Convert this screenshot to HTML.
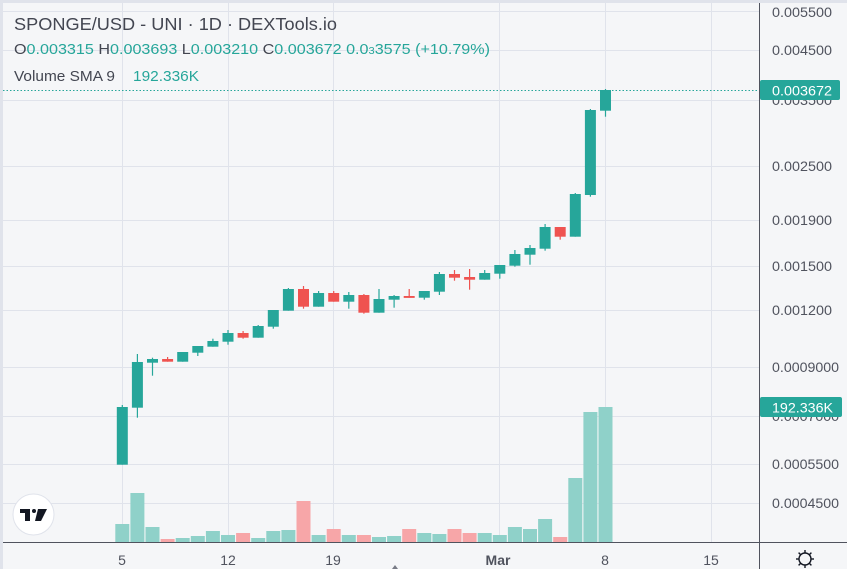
<!DOCTYPE html>
<html><head><meta charset="utf-8"><style>
html,body{margin:0;padding:0;background:#f5f6f8;}
svg{display:block;font-family:"Liberation Sans",sans-serif;}
</style></head><body>
<svg width="847" height="569" viewBox="0 0 847 569" xmlns="http://www.w3.org/2000/svg">
<rect width="847" height="569" fill="#f5f6f8"/>
<rect x="0" y="0" width="847" height="3" fill="#e0e3eb"/>
<rect x="0" y="0" width="3" height="569" fill="#e0e3eb"/>
<g stroke="#e0e3eb" stroke-width="1">
<line x1="3" y1="11.5" x2="759" y2="11.5"/><line x1="3" y1="50.5" x2="759" y2="50.5"/>
<line x1="3" y1="100.5" x2="759" y2="100.5"/><line x1="3" y1="166.5" x2="759" y2="166.5"/>
<line x1="3" y1="220.5" x2="759" y2="220.5"/><line x1="3" y1="266.5" x2="759" y2="266.5"/>
<line x1="3" y1="310.5" x2="759" y2="310.5"/><line x1="3" y1="367.5" x2="759" y2="367.5"/>
<line x1="3" y1="416.5" x2="759" y2="416.5"/><line x1="3" y1="464.5" x2="759" y2="464.5"/>
<line x1="3" y1="503.5" x2="759" y2="503.5"/>
<line x1="122.5" y1="3" x2="122.5" y2="542"/><line x1="228.5" y1="3" x2="228.5" y2="542"/>
<line x1="333.5" y1="3" x2="333.5" y2="542"/><line x1="499.5" y1="3" x2="499.5" y2="542"/>
<line x1="605.5" y1="3" x2="605.5" y2="542"/><line x1="711.5" y1="3" x2="711.5" y2="542"/>
</g>
<g>
<rect x="115.3" y="524" width="14" height="18" fill="#8fd1c9"/>
<rect x="130.4" y="493" width="14" height="49" fill="#8fd1c9"/>
<rect x="145.5" y="527" width="14" height="15" fill="#8fd1c9"/>
<rect x="160.6" y="539" width="14" height="3" fill="#f7a6a8"/>
<rect x="175.7" y="538" width="14" height="4" fill="#8fd1c9"/>
<rect x="190.8" y="536" width="14" height="6" fill="#8fd1c9"/>
<rect x="205.9" y="531" width="14" height="11" fill="#8fd1c9"/>
<rect x="221.0" y="535" width="14" height="7" fill="#8fd1c9"/>
<rect x="236.1" y="533" width="14" height="9" fill="#f7a6a8"/>
<rect x="251.2" y="538" width="14" height="4" fill="#8fd1c9"/>
<rect x="266.3" y="531" width="14" height="11" fill="#8fd1c9"/>
<rect x="281.4" y="530" width="14" height="12" fill="#8fd1c9"/>
<rect x="296.5" y="501" width="14" height="41" fill="#f7a6a8"/>
<rect x="311.6" y="535" width="14" height="7" fill="#8fd1c9"/>
<rect x="326.7" y="529" width="14" height="13" fill="#f7a6a8"/>
<rect x="341.8" y="535" width="14" height="7" fill="#8fd1c9"/>
<rect x="356.9" y="535" width="14" height="7" fill="#f7a6a8"/>
<rect x="372.0" y="537" width="14" height="5" fill="#8fd1c9"/>
<rect x="387.1" y="536" width="14" height="6" fill="#8fd1c9"/>
<rect x="402.2" y="529" width="14" height="13" fill="#f7a6a8"/>
<rect x="417.3" y="533" width="14" height="9" fill="#8fd1c9"/>
<rect x="432.4" y="534" width="14" height="8" fill="#8fd1c9"/>
<rect x="447.5" y="529" width="14" height="13" fill="#f7a6a8"/>
<rect x="462.6" y="533" width="14" height="9" fill="#f7a6a8"/>
<rect x="477.7" y="533" width="14" height="9" fill="#8fd1c9"/>
<rect x="492.8" y="535" width="14" height="7" fill="#8fd1c9"/>
<rect x="507.9" y="527" width="14" height="15" fill="#8fd1c9"/>
<rect x="523.0" y="529" width="14" height="13" fill="#8fd1c9"/>
<rect x="538.1" y="519" width="14" height="23" fill="#8fd1c9"/>
<rect x="553.2" y="537" width="14" height="5" fill="#f7a6a8"/>
<rect x="568.3" y="478" width="14" height="64" fill="#8fd1c9"/>
<rect x="583.4" y="412" width="14" height="130" fill="#8fd1c9"/>
<rect x="598.5" y="407" width="14" height="135" fill="#8fd1c9"/>
</g>
<g stroke-width="1.2">
<g fill="#26a69a" stroke="#26a69a">
<line x1="122.3" y1="405" x2="122.3" y2="464.7"/><rect x="116.8" y="407" width="11" height="57.7" stroke="none"/>
<line x1="137.4" y1="354" x2="137.4" y2="417.7"/><rect x="131.9" y="362" width="11" height="45.7" stroke="none"/>
<line x1="152.5" y1="357.7" x2="152.5" y2="375.7"/><rect x="147" y="359" width="11" height="3.7" stroke="none"/>
<line x1="182.7" y1="352" x2="182.7" y2="361.7"/><rect x="177.2" y="352" width="11" height="9.7" stroke="none"/>
<line x1="197.8" y1="346" x2="197.8" y2="356"/><rect x="192.3" y="346" width="11" height="6.7" stroke="none"/>
<line x1="212.9" y1="338.7" x2="212.9" y2="346.7"/><rect x="207.4" y="341" width="11" height="5.7" stroke="none"/>
<line x1="228" y1="330" x2="228" y2="344.7"/><rect x="222.5" y="333" width="11" height="8.7" stroke="none"/>
<line x1="258.2" y1="325" x2="258.2" y2="337.7"/><rect x="252.7" y="326" width="11" height="11.7" stroke="none"/>
<line x1="273.3" y1="310" x2="273.3" y2="328.7"/><rect x="267.8" y="310" width="11" height="16.7" stroke="none"/>
<line x1="288.4" y1="288" x2="288.4" y2="310.7"/><rect x="282.9" y="289" width="11" height="21.7" stroke="none"/>
<line x1="318.6" y1="291" x2="318.6" y2="306.7"/><rect x="313.1" y="293" width="11" height="13.7" stroke="none"/>
<line x1="348.8" y1="292" x2="348.8" y2="308.7"/><rect x="343.3" y="295" width="11" height="6.7" stroke="none"/>
<line x1="379" y1="289" x2="379" y2="312.7"/><rect x="373.5" y="299" width="11" height="13.7" stroke="none"/>
<line x1="394.1" y1="295" x2="394.1" y2="307.7"/><rect x="388.6" y="296" width="11" height="3.7" stroke="none"/>
<line x1="424.3" y1="291" x2="424.3" y2="299.7"/><rect x="418.8" y="291" width="11" height="6.7" stroke="none"/>
<line x1="439.4" y1="272" x2="439.4" y2="295"/><rect x="433.9" y="274" width="11" height="17.7" stroke="none"/>
<line x1="484.7" y1="270" x2="484.7" y2="279.7"/><rect x="479.2" y="273" width="11" height="6.7" stroke="none"/>
<line x1="499.8" y1="265" x2="499.8" y2="278.7"/><rect x="494.3" y="265" width="11" height="8.7" stroke="none"/>
<line x1="514.9" y1="250" x2="514.9" y2="266.7"/><rect x="509.4" y="254" width="11" height="11.7" stroke="none"/>
<line x1="530" y1="245" x2="530" y2="264.7"/><rect x="524.5" y="248" width="11" height="6.7" stroke="none"/>
<line x1="545.1" y1="224" x2="545.1" y2="250.7"/><rect x="539.6" y="227" width="11" height="21.7" stroke="none"/>
<line x1="575.3" y1="193" x2="575.3" y2="236.7"/><rect x="569.8" y="194" width="11" height="42.7" stroke="none"/>
<line x1="590.4" y1="109" x2="590.4" y2="196.7"/><rect x="584.9" y="110" width="11" height="85" stroke="none"/>
<line x1="605.5" y1="89" x2="605.5" y2="116.7"/><rect x="600" y="90" width="11" height="20.7" stroke="none"/>
</g>
<g fill="#ef5350" stroke="#ef5350">
<line x1="167.6" y1="357" x2="167.6" y2="361.7"/><rect x="162.1" y="359" width="11" height="2.7" stroke="none"/>
<line x1="243.1" y1="331" x2="243.1" y2="338.7"/><rect x="237.6" y="333" width="11" height="4.7" stroke="none"/>
<line x1="303.5" y1="286" x2="303.5" y2="308.7"/><rect x="298" y="289" width="11" height="17.7" stroke="none"/>
<line x1="333.7" y1="291" x2="333.7" y2="301.7"/><rect x="328.2" y="293" width="11" height="8.7" stroke="none"/>
<line x1="363.9" y1="294" x2="363.9" y2="313.7"/><rect x="358.4" y="295" width="11" height="17.7" stroke="none"/>
<line x1="409.2" y1="289" x2="409.2" y2="297.7"/><rect x="403.7" y="296" width="11" height="1.9" stroke="none"/>
<line x1="454.5" y1="270" x2="454.5" y2="280.7"/><rect x="449" y="274" width="11" height="3.7" stroke="none"/>
<line x1="469.6" y1="269" x2="469.6" y2="289.7"/><rect x="464.1" y="277" width="11" height="2.7" stroke="none"/>
<line x1="560.2" y1="227" x2="560.2" y2="239.7"/><rect x="554.7" y="227" width="11" height="9.7" stroke="none"/>
</g>
</g>
<line x1="3" y1="90.5" x2="760" y2="90.5" stroke="#26a69a" stroke-width="1" stroke-dasharray="1.5,2"/>
<line x1="759.5" y1="3" x2="759.5" y2="569" stroke="#50535e" stroke-width="1"/>
<line x1="3" y1="542.5" x2="847" y2="542.5" stroke="#50535e" stroke-width="1"/>
<g font-size="14" fill="#50535e">
<text x="772" y="17" textLength="60" lengthAdjust="spacingAndGlyphs">0.005500</text>
<text x="772" y="55" textLength="60" lengthAdjust="spacingAndGlyphs">0.004500</text>
<text x="772" y="105" textLength="60" lengthAdjust="spacingAndGlyphs">0.003500</text>
<text x="772" y="171" textLength="60" lengthAdjust="spacingAndGlyphs">0.002500</text>
<text x="772" y="225" textLength="60" lengthAdjust="spacingAndGlyphs">0.001900</text>
<text x="772" y="271" textLength="60" lengthAdjust="spacingAndGlyphs">0.001500</text>
<text x="772" y="315" textLength="60" lengthAdjust="spacingAndGlyphs">0.001200</text>
<text x="772" y="372" textLength="67" lengthAdjust="spacingAndGlyphs">0.0009000</text>
<text x="772" y="421" textLength="67" lengthAdjust="spacingAndGlyphs">0.0007000</text>
<text x="772" y="469" textLength="67" lengthAdjust="spacingAndGlyphs">0.0005500</text>
<text x="772" y="508" textLength="67" lengthAdjust="spacingAndGlyphs">0.0004500</text>
</g>
<rect x="760" y="80" width="80" height="20" rx="2" fill="#26a69a"/>
<text x="772" y="95.5" font-size="14" fill="#fff" textLength="60" lengthAdjust="spacingAndGlyphs">0.003672</text>
<rect x="760" y="397" width="82" height="20" rx="2" fill="#26a69a"/>
<text x="772" y="412.5" font-size="14" fill="#fff" textLength="61" lengthAdjust="spacingAndGlyphs">192.336K</text>
<g font-size="14" fill="#50535e" text-anchor="middle">
<text x="122" y="565">5</text><text x="228" y="565">12</text><text x="333" y="565">19</text>
<text x="498" y="565" font-weight="bold">Mar</text><text x="605" y="565">8</text><text x="711" y="565">15</text>
</g>
<path d="M392 569 L395 565 L398 569Z" fill="#787b86"/>
<g transform="translate(805,559)" stroke="#131722" stroke-width="1.4" fill="none">
<circle r="6"/>
<line x1="0" y1="-9" x2="0" y2="-6"/><line x1="0" y1="6" x2="0" y2="9"/>
<line x1="-9" y1="0" x2="-6" y2="0"/><line x1="6" y1="0" x2="9" y2="0"/>
<line x1="-6.4" y1="-6.4" x2="-4.3" y2="-4.3"/><line x1="4.3" y1="4.3" x2="6.4" y2="6.4"/>
<line x1="-6.4" y1="6.4" x2="-4.3" y2="4.3"/><line x1="4.3" y1="-4.3" x2="6.4" y2="-6.4"/>
</g>
<circle cx="33.5" cy="514.5" r="20.5" fill="#fff" stroke="#e0e3eb" stroke-width="1"/>
<g fill="#131722">
<rect x="20" y="509" width="10" height="4"/><rect x="25" y="509" width="5" height="12"/>
<circle cx="34" cy="511" r="2"/>
<path d="M38 509 L47 509 L41 521 L35 521Z"/>
</g>
<text x="14" y="30" font-size="17.5" fill="#434651" textLength="323" lengthAdjust="spacingAndGlyphs">SPONGE/USD - UNI · 1D · DEXTools.io</text>
<text x="14" y="54" font-size="14.5" fill="#26a69a" textLength="476" lengthAdjust="spacingAndGlyphs"><tspan fill="#434651">O</tspan>0.003315 <tspan fill="#434651">H</tspan>0.003693 <tspan fill="#434651">L</tspan>0.003210 <tspan fill="#434651">C</tspan>0.003672 0.0<tspan font-size="10">3</tspan>3575 (+10.79%)</text>
<text x="14" y="81" font-size="14.5" fill="#434651" textLength="101" lengthAdjust="spacingAndGlyphs">Volume SMA 9</text>
<text x="133" y="81" font-size="14.5" fill="#26a69a" textLength="66" lengthAdjust="spacingAndGlyphs">192.336K</text>
</svg>
</body></html>
